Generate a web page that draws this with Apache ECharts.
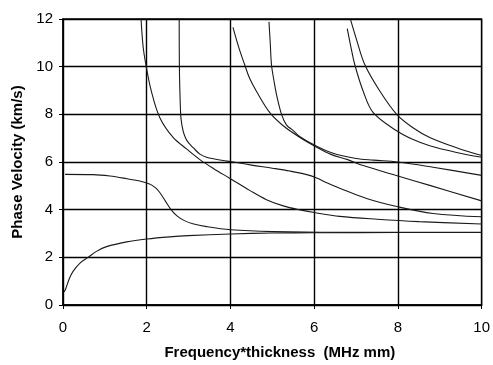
<!DOCTYPE html>
<html>
<head>
<meta charset="utf-8">
<script src="https://cdn.jsdelivr.net/npm/echarts@6/dist/echarts.min.js"></script>
<style>html,body{margin:0;padding:0;background:#fff;}#c{width:493px;height:365px;}</style>
</head>
<body>
<div id="c"></div>
<script>
var xTicks = [0, 2, 4, 6, 8, 10];
var yTicks = [0, 2, 4, 6, 8, 10, 12];
var xTitle = 'Frequency*thickness  (MHz mm)';
var yTitle = 'Phase Velocity (km/s)';

var modeA0 = [[0.03,0.55],[0.065,0.68],[0.15,1.1],[0.24,1.41],[0.4,1.75],[0.6,2.0],[0.8,2.25],[1.04,2.45],[1.52,2.65],[2.0,2.77],[2.55,2.86],[3.0,2.91],[4.0,2.98],[5.0,3.02],[6.0,3.03],[8.0,3.04],[10,3.04]];
var modeS0 = [[0.05,5.48],[0.72,5.47],[1.12,5.41],[1.52,5.30],[1.83,5.2],[2.0,5.12],[2.12,5.03],[2.22,4.9],[2.32,4.7],[2.45,4.35],[2.59,3.98],[2.73,3.73],[2.9,3.54],[3.1,3.41],[3.43,3.29],[4.0,3.16],[5.02,3.08],[6.6,3.05],[8.0,3.05],[10,3.05]];
var modeA1 = [[1.855,12.3],[1.91,10.9],[1.98,10.08],[2.11,8.97],[2.31,7.87],[2.63,7.03],[2.95,6.55],[3.27,6.1],[3.6,5.72],[3.98,5.32],[4.46,4.81],[4.86,4.42],[5.26,4.16],[5.66,3.99],[6.0,3.88],[6.61,3.72],[7.5,3.6],[8.5,3.5],[10,3.4]];
var modeS1 = [[2.775,12.2],[2.78,10.0],[2.8,8.5],[2.82,7.8],[2.87,7.3],[2.93,7.0],[3.0,6.8],[3.11,6.6],[3.27,6.33],[3.43,6.2],[3.82,6.06],[4.0,6.02],[4.5,5.87],[5.0,5.74],[5.42,5.62],[5.8,5.48],[6.06,5.33],[6.3,5.13],[6.61,4.9],[7.25,4.47],[8.0,4.12],[8.84,3.84],[10,3.70]];
var modeA2 = [[4.06,11.65],[4.2,10.8],[4.34,10.08],[4.46,9.5],[4.62,8.97],[4.94,8.07],[5.26,7.52],[5.66,7.03],[6.06,6.62],[6.4,6.32],[6.8,6.1],[7.17,5.85],[8.0,5.41],[8.76,5.02],[10,4.37]];
var modeS2 = [[4.92,11.88],[4.95,11.0],[4.98,10.08],[5.04,9.4],[5.1,8.83],[5.22,8.0],[5.34,7.55],[5.5,7.32],[5.66,7.06],[6.06,6.66],[6.45,6.37],[7.0,6.15],[7.41,6.08],[8.0,6.0],[8.84,5.78],[10,5.44]];
var modeA3 = [[6.79,11.6],[6.88,10.8],[6.97,10.08],[7.17,8.97],[7.41,8.07],[7.97,7.31],[8.35,6.95],[8.76,6.68],[9.4,6.4],[10,6.2]];
var modeS3 = [[6.87,11.96],[7.0,11.2],[7.21,10.08],[7.57,8.97],[7.97,8.0],[8.35,7.45],[8.76,7.03],[9.4,6.6],[10,6.27]];

var modes = [modeA0, modeS0, modeA1, modeS1, modeA2, modeS2, modeA3, modeS3];

var chart = echarts.init(document.getElementById('c'), null, {renderer: 'canvas'});
var font = '"Liberation Sans", Arial, sans-serif';
var series = modes.map(function (d) {
  return {
    type: 'line', data: d, showSymbol: false, symbol: 'none',
    smooth: 0.35, clip: true,
    lineStyle: {color: '#1a1a1a', width: 1.1}, animation: false
  };
});
chart.setOption({
  animation: false,
  grid: {left: 63, right: 11, top: 19, bottom: 58, show: true, borderColor: '#000', borderWidth: 1.3},
  xAxis: {
    type: 'value', min: xTicks[0], max: xTicks[xTicks.length - 1], interval: xTicks[1] - xTicks[0],
    name: xTitle, nameLocation: 'middle', nameGap: 40,
    nameTextStyle: {fontFamily: font, fontWeight: 'bold', fontSize: 15, color: '#000', padding: [0, 0, 0, 15]},
    axisLine: {show: true, lineStyle: {color: '#000', width: 1.5}},
    axisTick: {show: true, length: 4, lineStyle: {color: '#000'}},
    axisLabel: {fontFamily: font, fontSize: 15, color: '#000', margin: 15},
    splitLine: {show: true, lineStyle: {color: '#000', width: 1.4}}
  },
  yAxis: {
    type: 'value', min: yTicks[0], max: yTicks[yTicks.length - 1], interval: yTicks[1] - yTicks[0],
    name: yTitle, nameLocation: 'middle', nameGap: 38, nameRotate: 90,
    nameTextStyle: {fontFamily: font, fontWeight: 'bold', fontSize: 15, color: '#000'},
    axisLine: {show: true, lineStyle: {color: '#000', width: 1.5}},
    axisTick: {show: true, length: 4, lineStyle: {color: '#000'}},
    axisLabel: {fontFamily: font, fontSize: 15, color: '#000', margin: 10},
    splitLine: {show: true, lineStyle: {color: '#000', width: 1.4}}
  },
  series: series
});
</script>
</body>
</html>
